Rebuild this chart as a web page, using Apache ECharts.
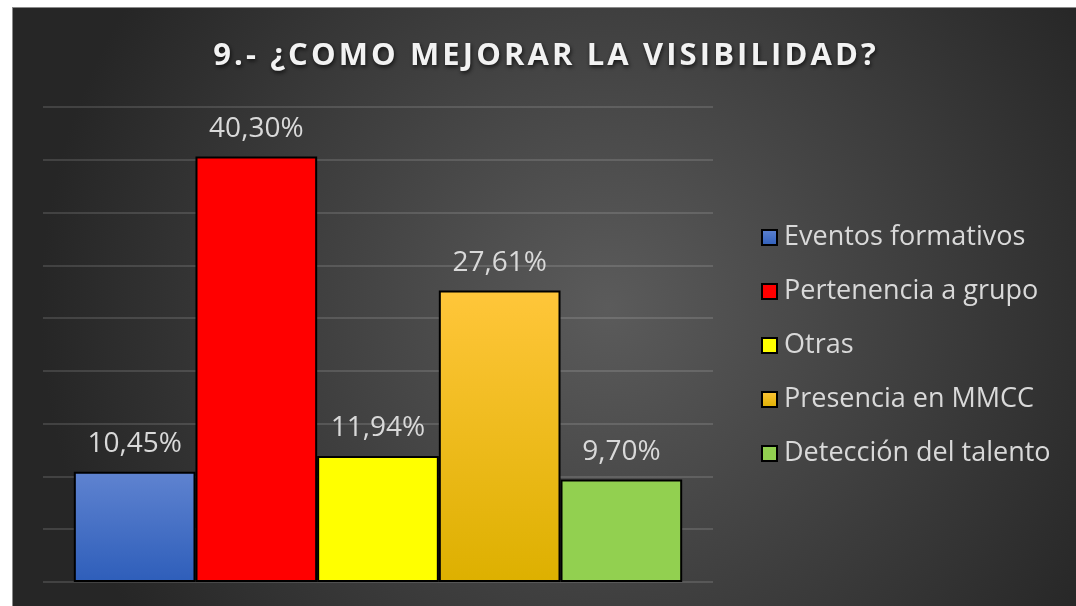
<!DOCTYPE html>
<html>
<head>
<meta charset="utf-8">
<script src="https://cdn.jsdelivr.net/npm/echarts@6/dist/echarts.min.js"></script>
<style>
  html, body { margin: 0; padding: 0; background: #ffffff; }
  #chart {
    position: absolute;
    left: 12px;
    top: 7px;
    width: 1064px;
    height: 599px;
    box-sizing: border-box;
    border-left: 1px solid #8a8a8a;
    border-top: 1px solid #8a8a8a;
  }
</style>
</head>
<body>
<div id="chart"></div>
<script>
// datos del gráfico
const titulo = '9.- ¿COMO MEJORAR LA VISIBILIDAD?'
const categorias = ['']
const nombres = ['Eventos formativos', 'Pertenencia a grupo', 'Otras', 'Presencia en MMCC', 'Detección del talento']
const valores = [10.45, 40.30, 11.94, 27.61, 9.70]
const ejeMax = 45
const ejeIntervalo = 5

// colores de las barras
const colores = [
  new echarts.graphic.LinearGradient(0, 0, 0, 1, [
    { offset: 0, color: '#5f83d0' },
    { offset: 1, color: '#2e5eba' }
  ]),
  '#ff0000',
  '#ffff00',
  new echarts.graphic.LinearGradient(0, 0, 0, 1, [
    { offset: 0, color: '#ffc63a' },
    { offset: 1, color: '#ddb000' }
  ]),
  '#92d050'
]

const fuente = '"Open Sans", "Noto Sans", sans-serif'

// espaciado entre letras del título
const tituloEspaciado = titulo.split('').join('\u200A')

const chart = echarts.init(document.getElementById('chart'))

const series = nombres.map((nombre, i) => ({
  name: nombre,
  type: 'bar',
  data: [valores[i]],
  barGap: '0%',
  barCategoryGap: '9.2%',
  itemStyle: {
    color: colores[i],
    borderColor: '#000000',
    borderWidth: 2
  },
  label: {
    show: true,
    position: 'top',
    distance: 14,
    color: '#d9d9d9',
    fontSize: 28,
    fontFamily: fuente,
    formatter: p => p.value.toFixed(2).replace('.', ',') + '%'
  }
}))

chart.setOption({
  animation: false,
  backgroundColor: {
    type: 'radial',
    x: 0.56,
    y: 0.5,
    r: 0.95,
    colorStops: [
      { offset: 0, color: '#5b5b5b' },
      { offset: 1, color: '#262626' }
    ]
  },
  title: {
    text: tituloEspaciado,
    left: 'center',
    top: 28,
    textStyle: {
      color: '#f2f2f2',
      fontSize: 31,
      fontWeight: 'bold',
      fontFamily: fuente,
      textShadowColor: 'rgba(0,0,0,0.7)',
      textShadowBlur: 4,
      textShadowOffsetX: 1,
      textShadowOffsetY: 2
    }
  },
  legend: {
    orient: 'vertical',
    left: 743,
    top: 211,
    itemWidth: 15,
    itemHeight: 15,
    itemGap: 27,
    icon: 'rect',
    textStyle: {
      color: '#d9d9d9',
      fontSize: 27,
      fontFamily: fuente,
      padding: [0, 0, 0, 2]
    }
  },
  grid: {
    left: 30,
    right: 363,
    top: 99,
    bottom: 24
  },
  xAxis: {
    type: 'category',
    data: categorias,
    axisLine: { show: false },
    axisTick: { show: false },
    axisLabel: { show: false }
  },
  yAxis: {
    type: 'value',
    min: 0,
    max: ejeMax,
    interval: ejeIntervalo,
    axisLabel: { show: false },
    axisLine: { show: false },
    axisTick: { show: false },
    splitLine: {
      lineStyle: { color: 'rgba(255,255,255,0.13)', width: 2 }
    }
  },
  series: series
})
</script>
</body>
</html>
